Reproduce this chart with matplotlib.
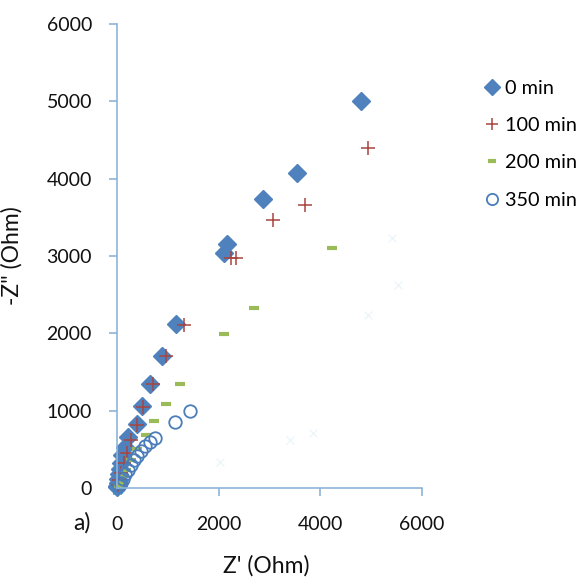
import matplotlib
matplotlib.use('Agg')
import matplotlib.pyplot as plt

plt.rcParams['font.family'] = ['Lato', 'DejaVu Sans']

# 0 min
z0_re = [4800, 3540, 2870, 2160, 2100, 1160, 880, 650, 500, 390, 225, 157, 92,
         70, 50, 35, 25, 15, 8, 3]
z0_im = [5000, 4080, 3740, 3160, 3040, 2120, 1710, 1345, 1060, 830, 660, 534, 427,
         330, 250, 180, 120, 70, 30, 10]

# 100 min
z100_re = [4950, 3700, 3070, 2350, 2250, 1310, 960, 700, 520, 400, 280, 200, 130,
           80, 40, 15]
z100_im = [4400, 3660, 3470, 2970, 2970, 2110, 1710, 1340, 1050, 820, 620, 460, 320,
           200, 100, 40]

# 200 min
z200_re = [4240, 2700, 2110, 1240, 960, 730, 570, 400, 280, 180, 110, 60, 25]
z200_im = [3100, 2325, 1990, 1345, 1085, 865, 685, 500, 360, 240, 150, 80, 30]

# 350 min
z350_re = [1440, 1140, 750, 640, 560, 480, 400, 330, 270, 210, 160, 110, 70, 35]
z350_im = [1000, 860, 645, 590, 540, 480, 420, 360, 300, 240, 180, 120, 70, 30]

# faded extra series (no legend entry)
zx_re = [5410, 5530, 4940, 3860, 3400, 2030]
zx_im = [3230, 2620, 2240, 710, 620, 340]
zx0_re = [0, 10, 20]
zx0_im = [0, 15, 30]

labels = ['0 min', '100 min', '200 min', '350 min']

fig = plt.figure(figsize=(5.85, 5.79), dpi=100)
ax = fig.add_axes([0.2, 0.157, 0.521, 0.8015])

ax.plot(zx_re, zx_im, 'x', color='#4BACC6', alpha=0.1, ms=6, label='_nolegend_')
ax.plot(zx0_re, zx0_im, '*', color='#4BACC6', ms=10, label='_nolegend_', clip_on=False)
ax.plot(z0_re, z0_im, 'D', color='#4F81BD', ms=9, mec='#4F81BD', label=labels[0],
        clip_on=False)
ax.plot(z100_re, z100_im, '+', color='#A8453F', ms=10, mew=1.1, label=labels[1],
        clip_on=False)
ax.plot(z200_re, z200_im, '_', color='#9BBB59', ms=7, mew=3, label=labels[2],
        clip_on=False)
ax.plot(z350_re, z350_im, 'o', mfc='none', mec='#4A7DBA', ms=9, mew=1.3,
        label=labels[3], clip_on=False)

ax.set_xlim(0, 6000)
ax.set_ylim(0, 6000)
ax.set_xticks([0, 2000, 4000, 6000])
ax.set_yticks(range(0, 6001, 1000))

for s in ['top', 'right']:
    ax.spines[s].set_visible(False)
for s in ['left', 'bottom']:
    ax.spines[s].set_color('#8EB4D8')
    ax.spines[s].set_linewidth(1.2)
ax.tick_params(axis='both', colors='#8EB4D8', labelcolor='#111111', labelsize=14,
               length=6, width=1.2, direction='out')
ax.tick_params(axis='y', pad=12)
ax.tick_params(axis='x', pad=14)

ax.set_ylabel('-Z" (Ohm)', fontsize=16.5, color='#111111')
ax.set_xlabel("Z' (Ohm)", fontsize=16.5, color='#111111')
ax.yaxis.set_label_coords(-0.31, 0.5)
ax.xaxis.set_label_coords(0.489, -0.145)

fig.text(82 / 585, 1 - 523 / 579, 'a)', fontsize=16.5, color='#111111',
         ha='center', va='center')

ax.legend(loc='upper left', bbox_to_anchor=(0.815, 0.876), bbox_transform=fig.transFigure,
          frameon=False, fontsize=14.3, handlelength=0.7, handletextpad=0.3,
          labelspacing=1.02, borderaxespad=0, numpoints=1, markerscale=0.9)

fig.savefig('out.png', dpi=100)
